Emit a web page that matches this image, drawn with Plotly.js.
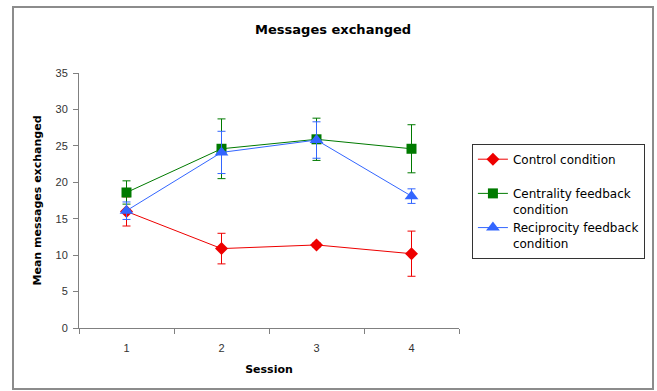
<!DOCTYPE html>
<html>
<head>
<meta charset="utf-8">
<script src="https://cdn.plot.ly/plotly-3.0.1.min.js"></script>
<style>
  html, body { margin: 0; padding: 0; background: #fff; }
  #wrap { position: relative; width: 657px; height: 391px; }
  #chart { position: absolute; left: 0; top: 0; width: 657px; height: 391px; }
  #frame { position: absolute; left: 12px; top: 6px; width: 638px; height: 380px;
           border: 2px solid #8c8c8c; pointer-events: none; }
</style>
</head>
<body>
<div id="wrap">
  <div id="chart"></div>
  <div id="frame"></div>
</div>
<script>
const sessions = ['1', '2', '3', '4'];

const controlMean = [16.0, 10.9, 11.4, 10.2];
const controlErr  = [2.0, 2.1, 0.3, 3.1];

const centralityMean = [18.6, 24.6, 25.9, 24.6];
const centralityErr  = [1.6, 4.1, 2.9, 3.3];

const reciprocityMean = [16.1, 24.1, 25.8, 18.1];
const reciprocityErr  = [1.2, 2.9, 2.5, 1.0];

const seriesNames = ['Control condition<br> ', 'Centrality feedback<br>condition', 'Reciprocity feedback<br>condition'];

function series(name, y, err, color, symbol, size) {
  return {
    type: 'scatter', mode: 'lines+markers', x: sessions, y: y, name: name,
    line: { color: color, width: 1 },
    marker: { color: color, symbol: symbol, size: size },
    error_y: { type: 'data', array: err, visible: true, color: color, thickness: 1, width: 4 }
  };
}

const data = [
  series(seriesNames[0], controlMean, controlErr, '#ee0000', 'diamond', 10),
  series(seriesNames[1], centralityMean, centralityErr, '#007a00', 'square', 10),
  series(seriesNames[2], reciprocityMean, reciprocityErr, '#3366ff', 'triangle-up', 12)
];

const axisFont = { family: 'Liberation Sans, Arial, sans-serif', size: 11, color: '#333' };

const layout = {
  width: 657, height: 391,
  margin: { l: 79, r: 198, t: 73, b: 63 },
  paper_bgcolor: '#fff', plot_bgcolor: '#fff',
  showlegend: true,
  title: {
    text: '<b>Messages exchanged</b>',
    font: { family: 'DejaVu Sans, sans-serif', size: 13, color: '#000' },
    x: 0.507, xanchor: 'center', y: 0.925, yanchor: 'middle'
  },
  xaxis: {
    type: 'category', range: [-0.5, 3.5],
    showline: true, linecolor: '#808080', linewidth: 1,
    showgrid: false, zeroline: false,
    ticks: 'outside', tickson: 'boundaries', ticklen: 5, tickcolor: '#808080',
    ticklabelstandoff: 10,
    tickfont: axisFont,
    title: { text: '<b>Session</b>', font: { family: 'DejaVu Sans, sans-serif', size: 11, color: '#000' }, standoff: 12 }
  },
  yaxis: {
    range: [0, 35], dtick: 5, tick0: 0,
    showline: true, linecolor: '#808080', linewidth: 1,
    showgrid: false, zeroline: false,
    ticks: 'outside', ticklen: 5, tickcolor: '#808080',
    ticklabelstandoff: 3,
    tickfont: axisFont,
    title: { text: '<b>Mean messages exchanged</b>', font: { family: 'DejaVu Sans, sans-serif', size: 11, color: '#000' }, standoff: 11 }
  },
  legend: {
    x: 1.034, xanchor: 'left', y: 0.722, yanchor: 'top',
    bordercolor: '#333', borderwidth: 1, bgcolor: '#fff',
    font: { family: 'DejaVu Sans, sans-serif', size: 12, color: '#000' },
    valign: 'top', tracegroupgap: 0, itemwidth: 30
  }
};

Plotly.newPlot('chart', data, layout, { staticPlot: true, displayModeBar: false });
</script>
</body>
</html>
